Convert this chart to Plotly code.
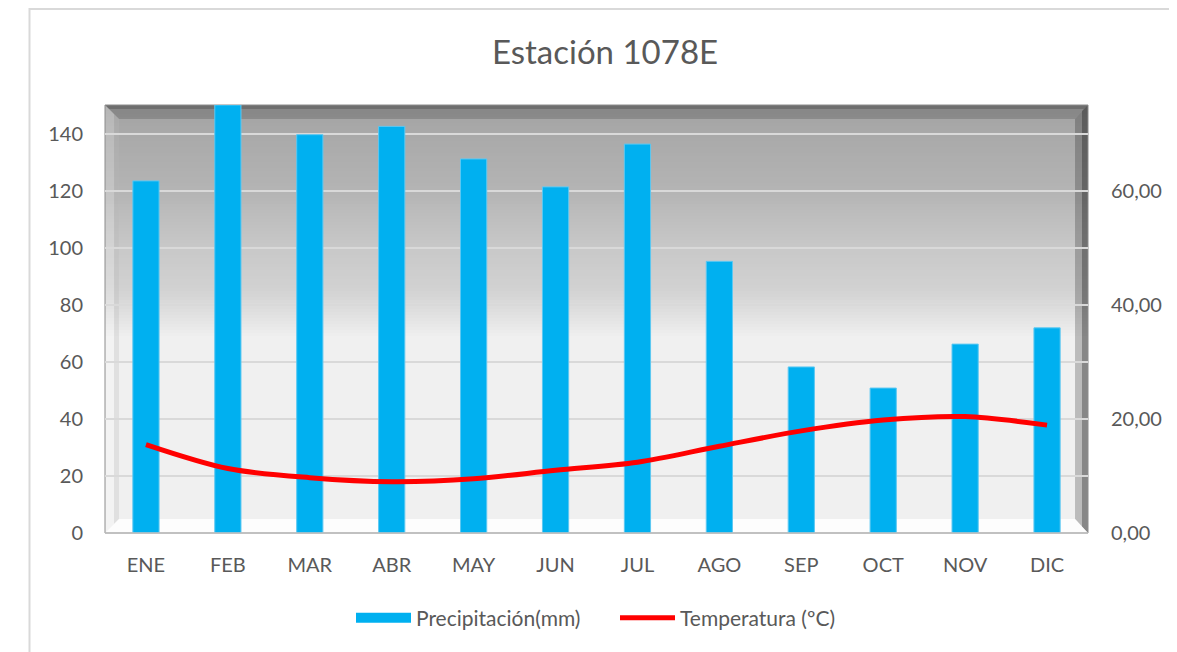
import plotly.graph_objects as go
import numpy as np

# ---- data ----
months = ["ENE", "FEB", "MAR", "ABR", "MAY", "JUN", "JUL", "AGO", "SEP", "OCT", "NOV", "DIC"]
precip = [123.4, 150.0, 139.6, 142.5, 131.1, 121.3, 136.3, 95.2, 58.2, 50.8, 66.2, 71.9]
temp = [15.5, 11.3, 9.7, 9.0, 9.5, 11.0, 12.4, 15.2, 17.9, 19.8, 20.4, 18.9]
left_ticks = [0, 20, 40, 60, 80, 100, 120, 140]
right_ticks = [0, 20, 40, 60]

# page geometry (the html body adds an 8px offset)
OFF = 8
PAGE_W, PAGE_H = 1177, 652
L, R, T, B = 105, 1088, 105, 533          # plot area in page pixels
W, H = PAGE_W - OFF, PAGE_H - OFF          # figure size
PW, PH = R - L, B - T
FONT = "Lato"
TXT = "#595959"


def fx(px):
    return (px - L) / PW


def fy(py):
    return (B - py) / PH


def path(pts):
    return "M " + " L ".join(f"{fx(a):.5f},{fy(b):.5f}" for a, b in pts) + " Z"


fig = go.Figure()

fig.add_trace(go.Bar(
    x=months, y=precip, name="Precipitación(mm)",
    marker=dict(color="#00b0f0", line=dict(color="#5cc8f2", width=1)),
    showlegend=False, yaxis="y",
))
# legend proxy for bars (wide rectangle symbol)
fig.add_trace(go.Scatter(
    x=[None], y=[None], mode="lines", name="Precipitación(mm)",
    line=dict(color="#00b0f0", width=14), yaxis="y",
))
fig.add_trace(go.Scatter(
    x=months, y=temp, name="Temperatura (ºC)", mode="lines",
    line=dict(color="#ff0000", width=5, shape="spline", smoothing=0.9),
    yaxis="y2",
))

shapes = []
# background vertical gradient (styling)
anch_y = [105, 119, 190, 240, 290, 320, 338, 533]
anch_c = [160, 166, 180, 198, 210, 228, 240, 240]
ys = np.arange(105, 346, 3)
for y0 in ys:
    c = int(round(np.interp(y0 + 1.5, anch_y, anch_c)))
    shapes.append(dict(type="rect", xref="paper", yref="paper", layer="below",
                       x0=0, x1=1, y0=fy(y0 + 3.5), y1=fy(y0), line_width=0,
                       fillcolor=f"rgb({c},{c},{c})"))
shapes.append(dict(type="rect", xref="paper", yref="paper", layer="below",
                   x0=0, x1=1, y0=0, y1=fy(345), line_width=0, fillcolor="rgb(240,240,240)"))

iL, iT, iR, iB = 119, 119, 1075, 519
# bevel faces
shapes.append(dict(type="path", xref="paper", yref="paper", layer="below",
                   path=path([(L, T), (R, T), (iR, iT), (iL, iT)]),
                   fillcolor="rgba(0,0,0,0.16)", line_width=0))
shapes.append(dict(type="path", xref="paper", yref="paper", layer="below",
                   path=path([(L, T), (R, T), (R - 4, T + 4), (L + 4, T + 4)]),
                   fillcolor="rgba(0,0,0,0.18)", line_width=0))
shapes.append(dict(type="path", xref="paper", yref="paper", layer="below",
                   path=path([(L, T), (iL, iT), (iL, iB), (L, B)]),
                   fillcolor="rgba(255,255,255,0.22)", line_width=0))
shapes.append(dict(type="path", xref="paper", yref="paper", layer="below",
                   path=path([(iL - 5, iT - 5), (iL, iT), (iL, iB), (iL - 5, iB + 5)]),
                   fillcolor="rgba(0,0,0,0.08)", line_width=0))
shapes.append(dict(type="path", xref="paper", yref="paper", layer="below",
                   path=path([(R, T), (R, B), (iR, iB), (iR, iT)]),
                   fillcolor="rgba(0,0,0,0.22)", line_width=0))
shapes.append(dict(type="path", xref="paper", yref="paper", layer="below",
                   path=path([(R, T), (R, B), (R - 6, B - 6), (R - 6, T + 6)]),
                   fillcolor="rgba(0,0,0,0.28)", line_width=0))
shapes.append(dict(type="path", xref="paper", yref="paper", layer="below",
                   path=path([(L, B), (iL, iB), (iR, iB), (R, B)]),
                   fillcolor="rgba(255,255,255,0.85)", line_width=0))
# outline of the plot area
shapes.append(dict(type="rect", xref="paper", yref="paper", layer="below",
                   x0=0, x1=1, y0=0, y1=1, line=dict(color="#8c8c8c", width=1),
                   fillcolor="rgba(0,0,0,0)"))
shapes.append(dict(type="line", xref="paper", yref="paper", layer="above",
                   x0=0, x1=1, y0=0, y1=0, line=dict(color="#bfbfbf", width=1.5)))
# outer chart border (top and left only visible)
shapes.append(dict(type="line", xref="paper", yref="paper",
                   x0=fx(29), x1=fx(1177), y0=fy(9), y1=fy(9),
                   line=dict(color="#d9d9d9", width=2)))
shapes.append(dict(type="line", xref="paper", yref="paper",
                   x0=fx(29.5), x1=fx(29.5), y0=fy(8), y1=fy(652),
                   line=dict(color="#d9d9d9", width=2)))

fig.update_layout(
    width=W, height=H,
    margin=dict(l=L - OFF, r=PAGE_W - R, t=T - OFF, b=PAGE_H - B, pad=0),
    paper_bgcolor="white", plot_bgcolor="rgba(0,0,0,0)",
    separators=",.",
    font=dict(family=FONT, color=TXT, size=20),
    title=dict(text="Estación 1078E", x=(605 - OFF) / W, xref="container", xanchor="center",
               y=1 - (52 - OFF) / H, yref="container", yanchor="middle",
               font=dict(family=FONT, size=33, color=TXT)),
    bargap=0.68,
    xaxis=dict(type="category", showgrid=False, showline=False, zeroline=False,
               ticks="", ticklabelstandoff=18, tickfont=dict(size=20, color=TXT)),
    yaxis=dict(range=[0, 150], tickvals=left_ticks, showgrid=True,
               gridcolor="#d9d9d9", gridwidth=2, zeroline=False, showline=False,
               ticks="", ticklabelstandoff=21, tickfont=dict(size=20, color=TXT)),
    yaxis2=dict(range=[0, 75], tickvals=right_ticks, tickformat=".2f",
                overlaying="y", side="right", showgrid=False, zeroline=False,
                showline=False, ticks="", ticklabelstandoff=22,
                tickfont=dict(size=20, color=TXT)),
    legend=dict(orientation="h", x=fx(351), xanchor="left",
                y=fy(618), yanchor="middle", itemwidth=55, entrywidth=194,
                font=dict(size=21, color=TXT), bgcolor="rgba(0,0,0,0)"),
    shapes=shapes,
)

fig.write_html("out.html")
